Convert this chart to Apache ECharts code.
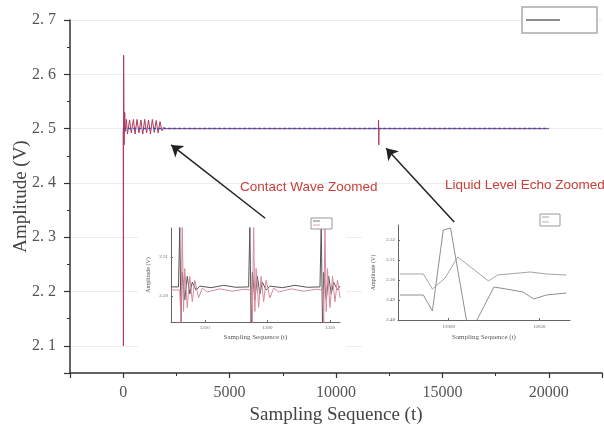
<!DOCTYPE html>
<html><head><meta charset="utf-8">
<script src="https://cdn.jsdelivr.net/npm/echarts@6/dist/echarts.min.js"></script>
<style>html,body{margin:0;padding:0;background:#fff}#c{width:604px;height:430px}</style>
</head><body><div id="c"></div>
<script>
// ---------- main chart data ----------
const mainXTickLabels = [0, 5000, 10000, 15000, 20000];
const mainYTickLabels = [2.1, 2.2, 2.3, 2.4, 2.5, 2.6, 2.7];

const signalT = [0, 10, 20, 40, 70, 100, 150, 200, 300, 380, 480, 560, 650, 740, 830, 920, 1010, 1100, 1190, 1280, 1370, 1460, 1550, 1640, 1730, 1820, 1900, 2000, 11990, 12000, 12010, 12020, 20000];
const signalV = [2.5, 2.10, 2.635, 2.47, 2.53, 2.495, 2.517, 2.49, 2.516, 2.492, 2.517, 2.49, 2.517, 2.492, 2.516, 2.49, 2.517, 2.492, 2.516, 2.49, 2.517, 2.493, 2.515, 2.492, 2.513, 2.496, 2.502, 2.5, 2.5, 2.516, 2.47, 2.5, 2.5];
const baselineT = [0, 20000];
const baselineV = [2.5, 2.5];

// arrows: [tailT, tailV, headT, headV]
const arrows = [[6673, 2.335, 2256, 2.470], [15555, 2.328, 12359, 2.464]];

// ---------- inset 1 (contact wave) ----------
const inset1XTicks = [1250, 1300, 1350];
const inset1YTicks = [2.50, 2.51];
const inset1DarkT = [1223,1229,1230,1231,1232,1234,1236,1238,1240,1243,1246,1255,1265,1275,1285,1286,1287,1288,1290,1292,1294,1296,1299,1302,1312,1322,1332,1342,1343,1344,1345,1347,1349,1351,1353,1356,1358];
const inset1DarkV = [2.5023,2.5023,2.5180,2.4930,2.5060,2.4990,2.5050,2.5005,2.5035,2.5015,2.5025,2.5021,2.5027,2.5022,2.5023,2.5180,2.4930,2.5060,2.4990,2.5050,2.5005,2.5035,2.5015,2.5025,2.5021,2.5027,2.5022,2.5023,2.5180,2.4930,2.5060,2.4990,2.5050,2.5005,2.5035,2.5015,2.5025];
const inset1PinkT = [1223,1230,1231,1232,1233,1234,1236,1238,1240,1242,1245,1248,1252,1262,1272,1282,1287,1288,1289,1290,1291,1293,1295,1297,1299,1302,1305,1309,1319,1329,1339,1344,1345,1346,1347,1348,1350,1352,1354,1356,1358];
const inset1PinkV = [2.5015,2.5015,2.4930,2.5180,2.4960,2.5070,2.4970,2.5050,2.4985,2.5040,2.4995,2.5020,2.5010,2.5018,2.5012,2.5017,2.5015,2.4930,2.5180,2.4960,2.5070,2.4970,2.5050,2.4985,2.5040,2.4995,2.5020,2.5010,2.5018,2.5012,2.5017,2.5015,2.4930,2.5180,2.4960,2.5070,2.4970,2.5050,2.4985,2.5040,2.4995];

// ---------- inset 2 (liquid level echo) ----------
const inset2XTicks = [12000, 12050];
const inset2YTicks = [2.48, 2.49, 2.50, 2.51, 2.52];
const echoAT = [11973,11986,11991,11997,12001,12010,12015,12025,12035,12041,12047,12054,12065];
const echoAV = [2.4925,2.4925,2.4845,2.525,2.526,2.479,2.479,2.4965,2.495,2.494,2.4905,2.4925,2.4935];
const echoBT = [11973,11986,11991,11998,12005,12022,12027,12045,12054,12065];
const echoBV = [2.503,2.503,2.4955,2.501,2.5115,2.4995,2.5025,2.504,2.503,2.5025];

const zip = (a, b) => a.map((x, i) => [x, b[i]]);
const isTick = (arr, v) => arr.some(t => Math.abs(t - v) < 1e-6);

const SERIF = '"Liberation Serif", "DejaVu Serif", serif';
const SANS = '"Liberation Sans", Arial, sans-serif';

const chart = echarts.init(document.getElementById('c'), null, {renderer: 'canvas'});

const insetAxisCommon = {
  z: 5,
  nameMoveOverlap: false,
  splitLine: {show: false},
  nameLocation: 'middle',
  nameTextStyle: {fontFamily: SERIF, fontSize: 7, color: '#555'},
};

const option = {
  animation: false,
  backgroundColor: '#fff',
  grid: [
    {left: 70, right: 2, top: 20, bottom: 57, containLabel: false, outerBoundsMode: 'none'},
    {left: 171, top: 228, width: 169, height: 94, containLabel: false, outerBoundsMode: 'none'},
    {left: 398, top: 225, width: 172, height: 95, containLabel: false, outerBoundsMode: 'none'}
  ],
  xAxis: [
    {
      gridIndex: 0, type: 'value', min: -2500, max: 22500,
      name: 'Sampling Sequence (t)', nameLocation: 'middle', nameGap: 33, nameMoveOverlap: false,
      nameTextStyle: {fontFamily: SERIF, fontSize: 19, color: '#444'},
      axisLine: {show: true, onZero: false, lineStyle: {color: '#333', width: 1.5}},
      axisTick: {show: true, length: 5, lineStyle: {color: '#333', width: 1.2}},
      minorTick: {show: true, splitNumber: 2, length: 3, lineStyle: {color: '#333'}},
      splitLine: {show: false},
      axisLabel: {
        fontFamily: SERIF, fontSize: 16, color: '#555', margin: 12,
        formatter: v => isTick(mainXTickLabels, v) ? String(v) : ''
      }
    },
    Object.assign({}, insetAxisCommon, {
      gridIndex: 1, type: 'value', min: 1223, max: 1358,
      name: 'Sampling Sequence (t)', nameGap: 12,
      axisLine: {show: true, onZero: false, lineStyle: {color: '#666', width: 1}},
      axisTick: {show: true, inside: true, length: 2, customValues: inset1XTicks, lineStyle: {color: '#666'}},
      axisLabel: {customValues: inset1XTicks, fontFamily: SERIF, fontSize: 5, color: '#666', margin: 3, formatter: v => String(v)}
    }),
    Object.assign({}, insetAxisCommon, {
      gridIndex: 2, type: 'value', min: 11972, max: 12067,
      name: 'Sampling Sequence (t)', nameGap: 14,
      axisLine: {show: true, onZero: false, lineStyle: {color: '#666', width: 1}},
      axisTick: {show: true, inside: true, length: 2, customValues: inset2XTicks, lineStyle: {color: '#666'}},
      axisLabel: {customValues: inset2XTicks, fontFamily: SERIF, fontSize: 5, color: '#666', margin: 4, formatter: v => String(v)}
    })
  ],
  yAxis: [
    {
      gridIndex: 0, type: 'value', min: 2.05, max: 2.7,
      name: 'Amplitude (V)', nameLocation: 'middle', nameGap: 39, nameMoveOverlap: false,
      nameTextStyle: {fontFamily: SERIF, fontSize: 19, color: '#444'},
      axisLine: {show: true, onZero: false, lineStyle: {color: '#333', width: 1.5}},
      axisTick: {show: true, length: 6, lineStyle: {color: '#333', width: 1.2}},
      minorTick: {show: true, splitNumber: 2, length: 3, lineStyle: {color: '#333'}},
      splitLine: {show: true, lineStyle: {color: '#ececec', width: 1}},
      axisLabel: {
        fontFamily: SERIF, fontSize: 16, color: '#555', margin: 14,
        formatter: v => isTick(mainYTickLabels, v) ? v.toFixed(1).replace('.', '. ') : ''
      }
    },
    Object.assign({}, insetAxisCommon, {
      gridIndex: 1, type: 'value', min: 2.4933, max: 2.5174,
      name: 'Amplitude (V)', nameGap: 20,
      nameTextStyle: {fontFamily: SERIF, fontSize: 6, color: '#555'},
      axisLine: {show: true, onZero: false, lineStyle: {color: '#666', width: 1}},
      axisTick: {show: true, inside: true, length: 2, customValues: inset1YTicks, lineStyle: {color: '#666'}},
      axisLabel: {customValues: inset1YTicks, fontFamily: SERIF, fontSize: 5, color: '#666', margin: 3, formatter: v => v.toFixed(2)}
    }),
    Object.assign({}, insetAxisCommon, {
      gridIndex: 2, type: 'value', min: 2.48, max: 2.5275,
      name: 'Amplitude (V)', nameGap: 22,
      nameTextStyle: {fontFamily: SERIF, fontSize: 6, color: '#555'},
      axisLine: {show: true, onZero: false, lineStyle: {color: '#666', width: 1}},
      axisTick: {show: true, inside: true, length: 2, customValues: inset2YTicks, lineStyle: {color: '#666'}},
      axisLabel: {customValues: inset2YTicks, fontFamily: SERIF, fontSize: 5, color: '#666', margin: 3, formatter: v => v.toFixed(2)}
    })
  ],
  series: [
    {
      type: 'line', xAxisIndex: 0, yAxisIndex: 0, z: 2,
      data: zip(signalT, signalV), showSymbol: false,
      lineStyle: {color: '#b03a5a', width: 1}
    },
    {
      type: 'line', xAxisIndex: 0, yAxisIndex: 0, z: 3,
      data: zip(baselineT, baselineV), showSymbol: false,
      lineStyle: {color: '#3f50b0', width: 1.5, type: [3, 2]},
      markLine: {
        silent: true, symbol: ['none', 'arrow'], symbolSize: 11, animation: false,
        itemStyle: {color: '#222'},
        lineStyle: {color: '#222', width: 1.5, type: 'solid'},
        label: {show: false},
        data: arrows.map(a => [{coord: [a[0], a[1]]}, {coord: [a[2], a[3]]}])
      }
    },
    {
      type: 'line', xAxisIndex: 1, yAxisIndex: 1, z: 6,
      data: zip(inset1DarkT, inset1DarkV), showSymbol: false,
      lineStyle: {color: '#555', width: 1}
    },
    {
      type: 'line', xAxisIndex: 1, yAxisIndex: 1, z: 6,
      data: zip(inset1PinkT, inset1PinkV), showSymbol: false,
      lineStyle: {color: '#d98a9c', width: 1}
    },
    {
      type: 'line', xAxisIndex: 2, yAxisIndex: 2, z: 6,
      data: zip(echoAT, echoAV), showSymbol: false,
      lineStyle: {color: '#8f8f8f', width: 1}
    },
    {
      type: 'line', xAxisIndex: 2, yAxisIndex: 2, z: 6,
      data: zip(echoBT, echoBV), showSymbol: false,
      lineStyle: {color: '#a5a5a5', width: 1}
    }
  ],
  graphic: [
    {type: 'rect', z: 1, shape: {x: 138, y: 212, width: 208, height: 138}, style: {fill: '#fff'}},
    {type: 'rect', z: 1, shape: {x: 362, y: 206, width: 242, height: 144}, style: {fill: '#fff'}},
    {type: 'rect', z: 10, shape: {x: 522, y: 7, width: 75, height: 26}, style: {fill: '#fff', stroke: '#aaa', lineWidth: 1.5}},
    {type: 'line', z: 11, shape: {x1: 526, y1: 20, x2: 560, y2: 20}, style: {stroke: '#666', lineWidth: 1.5}},
    {type: 'rect', z: 10, shape: {x: 311, y: 218, width: 21, height: 11}, style: {fill: '#fff', stroke: '#999', lineWidth: 1}},
    {type: 'line', z: 11, shape: {x1: 313, y1: 221, x2: 320, y2: 221}, style: {stroke: '#555', lineWidth: 0.8}},
    {type: 'line', z: 11, shape: {x1: 313, y1: 225, x2: 320, y2: 225}, style: {stroke: '#d98a9c', lineWidth: 0.8}},
    {type: 'rect', z: 10, shape: {x: 540, y: 214, width: 20, height: 12}, style: {fill: '#fff', stroke: '#999', lineWidth: 1}},
    {type: 'line', z: 11, shape: {x1: 542, y1: 217, x2: 549, y2: 217}, style: {stroke: '#8f8f8f', lineWidth: 0.8}},
    {type: 'line', z: 11, shape: {x1: 542, y1: 222, x2: 549, y2: 222}, style: {stroke: '#a5a5a5', lineWidth: 0.8}},
    {type: 'text', z: 12, left: 240, top: 180, style: {text: 'Contact Wave Zoomed', fill: '#c8403a', font: '13.5px ' + SANS}},
    {type: 'text', z: 12, left: 445, top: 178, style: {text: 'Liquid Level Echo Zoomed', fill: '#c8403a', font: '13.5px ' + SANS}}
  ]
};
chart.setOption(option);
</script>
</body></html>
